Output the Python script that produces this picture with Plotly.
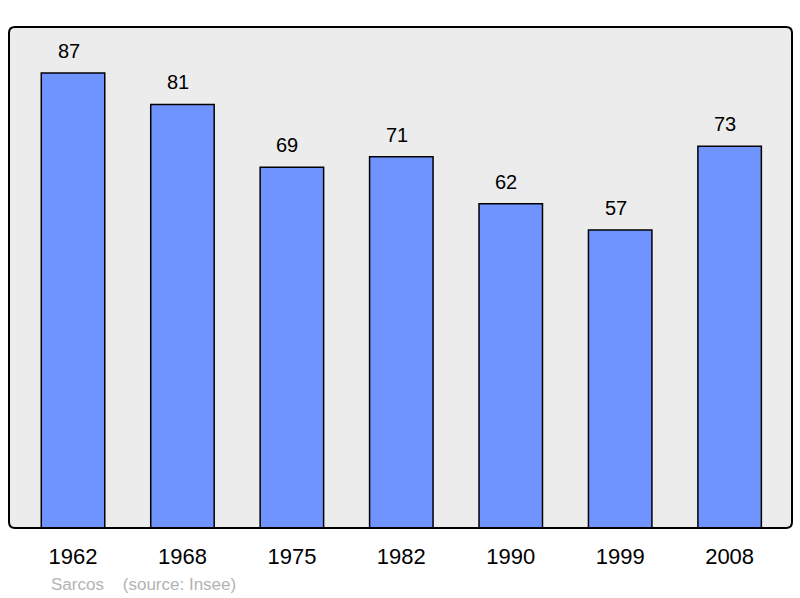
import plotly.graph_objects as go

years = ["1962", "1968", "1975", "1982", "1990", "1999", "2008"]
values = [87, 81, 69, 71, 62, 57, 73]

FONT = "Liberation Sans, Arial, sans-serif"
W, H = 800, 598
ML, MR, MT, MB = 9, 8, 27, 70
PW, PH = W - ML - MR, H - MT - MB

fig = go.Figure()
fig.add_trace(go.Bar(
    x=list(range(len(years))), y=values,
    marker=dict(color="#7094ff", line=dict(color="#000000", width=1.5)),
    width=0.58,
    hoverinfo="skip",
))

for i, v in enumerate(values):
    fig.add_annotation(x=i, y=v, text=str(v), showarrow=False,
                       xref="x", yref="y",
                       yanchor="bottom", yshift=9, xshift=-4.5,
                       font=dict(family=FONT, size=20, color="#000"))

fig.add_annotation(xref="paper", yref="paper", x=(49 - ML) / PW, y=-(584 - 528) / PH,
                   xanchor="left", yanchor="middle", showarrow=False,
                   text="Sarcos&nbsp;&nbsp;&nbsp;&nbsp;(source: Insee)",
                   font=dict(family=FONT, size=17, color="#b3b3b3"))

# rounded border
rx, ry = 6 / PW, 6 / PH
path = (f"M {rx},0 L {1-rx},0 Q 1,0 1,{ry} L 1,{1-ry} Q 1,1 {1-rx},1 "
        f"L {rx},1 Q 0,1 0,{1-ry} L 0,{ry} Q 0,0 {rx},0 Z")
fig.add_shape(type="path", xref="paper", yref="paper", path=path,
              line=dict(color="#000", width=2), layer="above")

fig.update_layout(
    width=W, height=H,
    margin=dict(l=ML, r=MR, t=MT, b=MB, autoexpand=False),
    paper_bgcolor="#ffffff", plot_bgcolor="#ececec",
    showlegend=False,
    xaxis=dict(range=[-0.585, 6.57], showgrid=False, zeroline=False,
               showline=False, ticks="", tickmode="array",
               tickvals=list(range(len(years))), ticktext=years,
               ticklabelstandoff=13,
               tickfont=dict(family=FONT, size=22, color="#000")),
    yaxis=dict(range=[0, 95.8], showgrid=False, zeroline=False, showticklabels=False,
               showline=False, ticks=""),
)

fig.write_html("out.html", config={"displayModeBar": False},
               post_script="document.body.style.margin='0';document.body.style.overflow='hidden';")
